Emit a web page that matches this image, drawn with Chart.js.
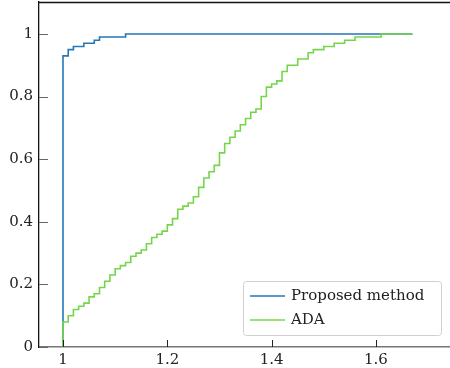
<!DOCTYPE html>
<html>
<head>
<meta charset="utf-8">
<script src="https://cdn.jsdelivr.net/npm/chart.js@4.4.1/dist/chart.umd.min.js"></script>
<style>
    html, body { margin: 0; padding: 0; background: #fff; }
    #wrap { width: 450px; height: 368px; }
</style>
</head>
<body>
<div id="wrap"><canvas id="cdf" width="450" height="368"></canvas></div>
<script>
/* Empirical CDF: proposed method vs ADA */

// --- Data ---

const proposedX = [1.00, 1.00, 1.01, 1.02, 1.04, 1.06, 1.07, 1.12, 1.67];
const proposedY = [0.00, 0.93, 0.95, 0.96, 0.97, 0.98, 0.99, 1.00, 1.00];

const adaX = [
    1.00, 1.00, 1.01, 1.02, 1.03, 1.04, 1.05, 1.06, 1.07, 1.08, 1.09,
    1.10, 1.11, 1.12, 1.13, 1.14, 1.15, 1.16, 1.17, 1.18, 1.19,
    1.20, 1.21, 1.22, 1.23, 1.24, 1.25, 1.26, 1.27, 1.28, 1.29,
    1.30, 1.31, 1.32, 1.33, 1.34, 1.35, 1.36, 1.37, 1.38, 1.39,
    1.40, 1.41, 1.42, 1.43, 1.45, 1.47, 1.48, 1.50, 1.52, 1.54,
    1.56, 1.61, 1.67
];
const adaY = [
    0.00, 0.08, 0.10, 0.12, 0.13, 0.14, 0.16, 0.17, 0.19, 0.21, 0.23,
    0.25, 0.26, 0.27, 0.29, 0.30, 0.31, 0.33, 0.35, 0.36, 0.37,
    0.39, 0.41, 0.44, 0.45, 0.46, 0.48, 0.51, 0.54, 0.56, 0.58,
    0.62, 0.65, 0.67, 0.69, 0.71, 0.73, 0.75, 0.76, 0.80, 0.83,
    0.84, 0.85, 0.88, 0.90, 0.92, 0.94, 0.95, 0.96, 0.97, 0.98,
    0.99, 1.00, 1.00
];

const xTicks = [1, 1.2, 1.4, 1.6];
const yTicks = [0, 0.2, 0.4, 0.6, 0.8, 1];

const seriesLabels = ['Proposed method', 'ADA'];
const seriesColors = ['#2677b6', '#76d64b'];

const FONT = 'DejaVu Serif';

// --- Helpers ---

function toPoints(xs, ys) {
    return xs.map((x, i) => ({ x, y: ys[i] }));
}

// top spine, inward tick marks and the boxed legend in the lower right
const framePlugin = {
    id: 'frame',
    afterDraw(chart) {
        const { ctx, chartArea: a, scales } = chart;
        ctx.save();

        ctx.strokeStyle = '#111';
        ctx.lineWidth = 1.3;
        ctx.beginPath();
        ctx.moveTo(a.left, a.top + 0.5);
        ctx.lineTo(a.right, a.top + 0.5);
        ctx.stroke();

        ctx.lineWidth = 1;
        ctx.strokeStyle = '#222';
        scales.x.ticks.forEach(t => {
            const px = Math.round(scales.x.getPixelForValue(t.value)) + 0.5;
            ctx.beginPath();
            ctx.moveTo(px, a.bottom);
            ctx.lineTo(px, a.bottom - 7);
            ctx.stroke();
        });
        ctx.strokeStyle = '#666';
        scales.y.ticks.forEach(t => {
            const py = Math.round(scales.y.getPixelForValue(t.value)) + 0.5;
            ctx.beginPath();
            ctx.moveTo(a.left, py);
            ctx.lineTo(a.left + 9, py);
            ctx.stroke();
        });

        // legend
        const bw = 198, bh = 54;
        const bx = a.right - 9 - bw, by = a.bottom - 12 - bh;
        ctx.fillStyle = 'rgba(255,255,255,0.9)';
        ctx.strokeStyle = '#d0d0d0';
        ctx.lineWidth = 1;
        ctx.beginPath();
        ctx.roundRect(bx + 0.5, by + 0.5, bw, bh, 3);
        ctx.fill();
        ctx.stroke();

        ctx.font = `15px "${FONT}"`;
        ctx.textBaseline = 'middle';
        ctx.textAlign = 'left';
        chart.data.datasets.forEach((ds, i) => {
            const ly = by + 15 + i * 24;
            ctx.strokeStyle = ds.borderColor;
            ctx.lineWidth = 1.6;
            ctx.beginPath();
            ctx.moveTo(bx + 7, ly);
            ctx.lineTo(bx + 42, ly);
            ctx.stroke();
            ctx.fillStyle = '#222';
            ctx.fillText(ds.label, bx + 48, ly);
        });

        ctx.restore();
    }
};

// --- Chart ---

new Chart(document.getElementById('cdf').getContext('2d'), {
    type: 'line',
    data: {
        datasets: [
            {
                label: seriesLabels[0],
                data: toPoints(proposedX, proposedY),
                borderColor: seriesColors[0],
                borderWidth: 1.6,
                stepped: true,
                pointRadius: 0,
                fill: false,
                order: 1,
            },
            {
                label: seriesLabels[1],
                data: toPoints(adaX, adaY),
                borderColor: seriesColors[1],
                borderWidth: 1.6,
                stepped: true,
                pointRadius: 0,
                fill: false,
                order: 0,
            }
        ]
    },
    options: {
        responsive: false,
        devicePixelRatio: 1,
        animation: false,
        layout: { padding: { top: 2, right: 0, left: 0, bottom: 0 } },
        plugins: {
            legend: { display: false },
            tooltip: { enabled: false },
        },
        scales: {
            x: {
                type: 'linear',
                min: 0.954,
                max: 1.742,
                afterBuildTicks: s => { s.ticks = xTicks.map(v => ({ value: v })); },
                afterFit: s => {
                    s.height = 21;
                    s.paddingLeft = 0;
                    s.paddingRight = 0;
                },
                ticks: {
                    color: '#222',
                    padding: 4,
                    maxRotation: 0,
                    font: { family: FONT, size: 15 },
                    callback: v => String(v),
                },
                grid: { display: false, drawTicks: false },
                border: { display: true, color: '#777', width: 1.5 },
            },
            y: {
                type: 'linear',
                min: 0,
                max: 1.102,
                afterBuildTicks: s => { s.ticks = yTicks.map(v => ({ value: v })); },
                afterFit: s => {
                    s.width = 39;
                    s.paddingTop = 0;
                    s.paddingBottom = 0;
                },
                ticks: {
                    color: '#222',
                    padding: 6,
                    font: { family: FONT, size: 15 },
                    callback: v => String(v),
                },
                grid: { display: false, drawTicks: false },
                border: { display: true, color: '#111', width: 1.3 },
            }
        }
    },
    plugins: [framePlugin]
});
</script>
</body>
</html>
